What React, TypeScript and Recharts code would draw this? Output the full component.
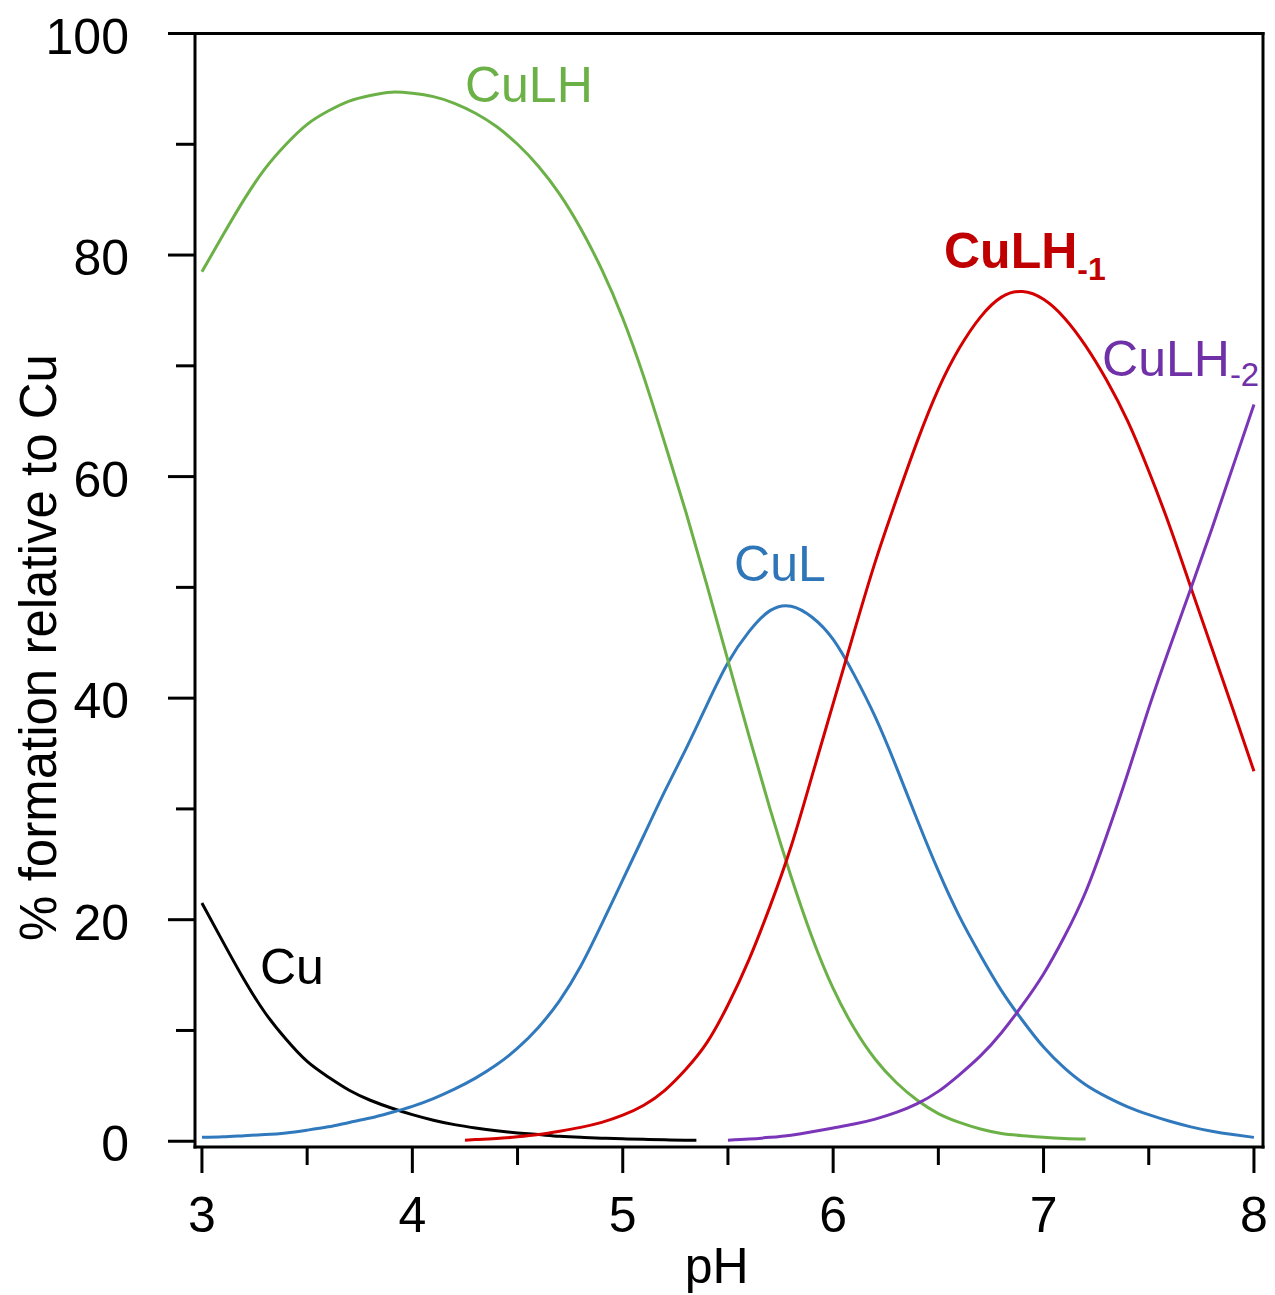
import React from 'react';
import { LineChart, Line, XAxis, YAxis, ReferenceDot, ReferenceLine, Label } from 'recharts';

const FONT = '"Liberation Sans", Arial, Helvetica, sans-serif';

// ---- data (pH vs % formation relative to Cu) ----
const phCu = [3.0, 3.1, 3.2, 3.3, 3.4, 3.5, 3.6, 3.7, 3.8, 3.9, 4.0, 4.1, 4.2, 4.3, 4.4, 4.5, 4.6, 4.7, 4.8, 4.9, 5.0, 5.1, 5.2, 5.3, 5.35];
const valCu = [21.5, 18.0, 14.6, 11.6, 9.2, 7.2, 5.8, 4.6, 3.7, 3.0, 2.4, 1.9, 1.5, 1.2, 0.95, 0.75, 0.6, 0.45, 0.35, 0.28, 0.22, 0.17, 0.13, 0.1, 0.08];

const phCuLH = [3.0, 3.1, 3.2, 3.3, 3.4, 3.5, 3.6, 3.7, 3.8, 3.9, 4.0, 4.1, 4.2, 4.3, 4.4, 4.5, 4.6, 4.7, 4.8, 4.9, 5.0, 5.1, 5.2, 5.3, 5.4, 5.5, 5.6, 5.7, 5.8, 5.9, 6.0, 6.1, 6.2, 6.3, 6.4, 6.5, 6.6, 6.7, 6.8, 6.9, 7.0, 7.1, 7.2];
const valCuLH = [78.5, 81.8, 85.0, 87.8, 90.0, 91.8, 93.0, 93.9, 94.4, 94.7, 94.6, 94.3, 93.7, 92.8, 91.6, 90.0, 88.0, 85.5, 82.4, 78.7, 74.3, 69.0, 63.0, 56.8, 50.2, 43.4, 36.6, 30.0, 23.9, 18.4, 13.8, 10.2, 7.4, 5.3, 3.7, 2.5, 1.7, 1.1, 0.7, 0.5, 0.35, 0.25, 0.2];

const phCuL = [3.0, 3.1, 3.2, 3.3, 3.4, 3.5, 3.6, 3.7, 3.8, 3.9, 4.0, 4.1, 4.2, 4.3, 4.4, 4.5, 4.6, 4.7, 4.8, 4.9, 5.0, 5.1, 5.2, 5.3, 5.4, 5.5, 5.6, 5.7, 5.8, 5.9, 6.0, 6.1, 6.2, 6.3, 6.4, 6.5, 6.6, 6.7, 6.8, 6.9, 7.0, 7.1, 7.2, 7.3, 7.4, 7.5, 7.6, 7.7, 7.8, 7.9, 8.0];
const valCuL = [0.35, 0.4, 0.5, 0.6, 0.75, 1.0, 1.3, 1.7, 2.1, 2.6, 3.15, 3.85, 4.7, 5.7, 6.9, 8.4, 10.3, 12.7, 15.8, 19.6, 23.6, 27.6, 31.6, 35.4, 39.4, 43.2, 46.0, 47.9, 48.3, 47.3, 45.3, 42.1, 38.3, 33.8, 29.0, 24.4, 20.3, 16.8, 13.6, 10.9, 8.5, 6.6, 5.1, 4.0, 3.1, 2.4, 1.8, 1.3, 0.9, 0.6, 0.35];

const phCuLHm1 = [4.25, 4.3, 4.4, 4.5, 4.6, 4.7, 4.8, 4.9, 5.0, 5.1, 5.2, 5.3, 5.4, 5.5, 5.6, 5.7, 5.8, 5.9, 6.0, 6.1, 6.2, 6.3, 6.4, 6.5, 6.6, 6.7, 6.8, 6.9, 7.0, 7.1, 7.2, 7.3, 7.4, 7.5, 7.6, 7.7, 7.8, 7.9, 8.0];
const valCuLHm1 = [0.1, 0.15, 0.25, 0.4, 0.6, 0.9, 1.25, 1.7, 2.35, 3.25, 4.6, 6.5, 8.9, 12.3, 16.4, 21.2, 26.6, 33.0, 39.5, 46.0, 52.3, 57.9, 63.2, 67.9, 71.6, 74.4, 76.2, 76.7, 76.0, 74.3, 71.8, 68.7, 65.0, 60.5, 55.5, 50.0, 44.5, 39.0, 33.4];

const phCuLHm2 = [5.5, 5.6, 5.7, 5.8, 5.9, 6.0, 6.1, 6.2, 6.3, 6.4, 6.5, 6.6, 6.7, 6.8, 6.9, 7.0, 7.1, 7.2, 7.3, 7.4, 7.5, 7.6, 7.7, 7.8, 7.9, 8.0];
const valCuLHm2 = [0.1, 0.2, 0.35, 0.55, 0.85, 1.2, 1.55, 2.0, 2.6, 3.4, 4.5, 6.0, 7.7, 9.8, 12.3, 15.1, 18.5, 22.5, 27.6, 33.2, 39.1, 44.6, 49.9, 55.3, 60.9, 66.5];

// ---- axes ----
const xDomain = [2.967, 8.043];
const yDomain = [-0.52, 100];
const xTicks = [3, 3.5, 4, 4.5, 5, 5.5, 6, 6.5, 7, 7.5, 8];
const xLabelled = [3, 4, 5, 6, 7, 8];
const yTicks = [0, 10, 20, 30, 40, 50, 60, 70, 80, 90, 100];
const yLabelled = [0, 20, 40, 60, 80, 100];

// ---- series + annotations ----
const series = [
  { name: 'Cu', ph: phCu, values: valCu, color: '#000000' },
  { name: 'CuL', ph: phCuL, values: valCuL, color: '#3079bd' },
  { name: 'CuLH', ph: phCuLH, values: valCuLH, color: '#6cb147' },
  { name: 'CuLH-1', ph: phCuLHm1, values: valCuLHm1, color: '#d40000' },
  { name: 'CuLH-2', ph: phCuLHm2, values: valCuLHm2, color: '#7a35b8' },
];

const annotations = [
  { text: 'CuLH', sub: '', x: 4.25, y: 93.8, color: '#6cb147', bold: false, subSize: 0, subDy: 0 },
  { text: 'CuL', sub: '', x: 5.529, y: 50.6, color: '#2f76b8', bold: false, subSize: 0, subDy: 0 },
  { text: 'CuLH', sub: '-1', x: 6.527, y: 78.8, color: '#c00000', bold: true, subSize: 32, subDy: 12 },
  { text: 'CuLH', sub: '-2', x: 7.278, y: 69.1, color: '#7030a8', bold: false, subSize: 33, subDy: 10 },
  { text: 'Cu', sub: '', x: 3.276, y: 14.2, color: '#000000', bold: false, subSize: 0, subDy: 0 },
];

const toRows = (ph: number[], vals: number[]) => ph.map((p, i) => ({ pH: p, v: vals[i] }));

const XTick = (props: any) => {
  const { x, y, payload } = props;
  const major = xLabelled.includes(payload.value);
  return (
    <g>
      <line x1={x} x2={x} y1={y} y2={y + (major ? 26 : 18)} stroke="#000" strokeWidth={3} />
      {major && (
        <text x={x} y={y + 85} textAnchor="middle" fontSize={50} fontFamily={FONT} fill="#000">
          {payload.value}
        </text>
      )}
    </g>
  );
};

const YTick = (props: any) => {
  const { x, y, payload } = props;
  const major = yLabelled.includes(payload.value);
  return (
    <g>
      <line x1={x} x2={x - (major ? 27 : 19)} y1={y} y2={y} stroke="#000" strokeWidth={3} />
      {major && (
        <text x={x - 66} y={y + 20} textAnchor="end" fontSize={50} fontFamily={FONT} fill="#000">
          {payload.value}
        </text>
      )}
    </g>
  );
};

const AnnText = ({ cx, cy, ann }: any) => (
  <text
    x={cx}
    y={cy}
    fill={ann.color}
    fontSize={50}
    fontWeight={ann.bold ? 'bold' : 'normal'}
    fontFamily={FONT}
  >
    {ann.text}
    {ann.sub ? (
      <tspan fontSize={ann.subSize} dy={ann.subDy}>
        {ann.sub}
      </tspan>
    ) : null}
  </text>
);

const axisLine = { stroke: '#000', strokeWidth: 3, strokeLinecap: 'square' as const };

export default function App() {
  return (
    <LineChart width={1267} height={1287} margin={{ top: 25.5, right: 12, bottom: 28, left: 0 }}>
      <XAxis
        dataKey="pH"
        type="number"
        domain={xDomain}
        allowDataOverflow
        ticks={xTicks}
        tick={<XTick />}
        tickLine={false}
        tickSize={0}
        tickMargin={0}
        height={120}
        axisLine={axisLine}
        interval={0}
      >
        <Label
          content={(p: any) => {
            const vb = p.viewBox || { x: 187, y: 1139, width: 1068 };
            return (
              <text x={vb.x + vb.width / 2 - 12.3} y={vb.y + 136} textAnchor="middle" fontSize={50} fontFamily={FONT} fill="#000">
                pH
              </text>
            );
          }}
        />
      </XAxis>
      <YAxis
        type="number"
        domain={yDomain}
        allowDataOverflow
        ticks={yTicks}
        tick={<YTick />}
        tickLine={false}
        tickSize={0}
        tickMargin={0}
        width={187}
        axisLine={axisLine}
        interval={0}
      >
        <Label
          content={(p: any) => {
            const vb = p.viewBox || { x: 0, y: 25.5, width: 187, height: 1113.5 };
            const cx = 48;
            const cy = vb.y + 614;
            return (
              <text
                x={cx}
                y={cy}
                transform={`rotate(-90, ${cx}, ${cy})`}
                textAnchor="middle"
                fontSize={51}
                fontFamily={FONT}
                fill="#000"
              >
                % formation relative to Cu
              </text>
            );
          }}
        />
      </YAxis>
      <ReferenceLine y={yDomain[1]} stroke="#000" strokeWidth={3} strokeLinecap="square" ifOverflow="visible" />
      <ReferenceLine x={xDomain[1]} stroke="#000" strokeWidth={3} strokeLinecap="square" ifOverflow="visible" />
      {series.map((s) => (
        <Line
          key={s.name}
          data={toRows(s.ph, s.values)}
          dataKey="v"
          name={s.name}
          type="natural"
          stroke={s.color}
          strokeWidth={3}
          dot={false}
          activeDot={false}
          isAnimationActive={false}
        />
      ))}
      {annotations.map((a, i) => (
        <ReferenceDot
          key={i}
          x={a.x}
          y={a.y}
          r={0}
          ifOverflow="visible"
          shape={(p: any) => <AnnText cx={p.cx} cy={p.cy} ann={a} />}
        />
      ))}
    </LineChart>
  );
}
